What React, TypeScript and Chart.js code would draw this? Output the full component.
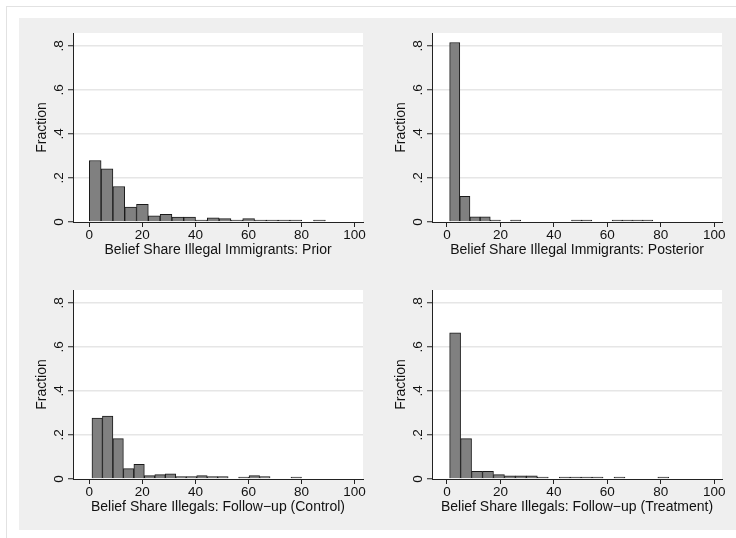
import React, { useEffect, useRef } from 'react';
import { Chart, registerables } from 'chart.js';

Chart.register(...registerables);

// Axis ticks
const xTicks = [0, 20, 40, 60, 80, 100];
const yTicks = [0, 0.2, 0.4, 0.6, 0.8];
const yTickLabels = ['0', '.2', '.4', '.6', '.8'];
const yLabel = 'Fraction';

// Panel 1: Prior (bins start 0, width 4.45)
const priorTitle = 'Belief Share Illegal Immigrants: Prior';
const priorStart = 0;
const priorWidth = 4.45;
const priorFractions = [0.279, 0.241, 0.161, 0.068, 0.080, 0.028, 0.035, 0.022, 0.022, 0.007, 0.019, 0.015, 0.004, 0.015, 0.005, 0.009, 0.004, 0.002, 0, 0.003];

// Panel 2: Posterior (bins start 1, width 3.8)
const posteriorTitle = 'Belief Share Illegal Immigrants: Posterior';
const posteriorStart = 1;
const posteriorWidth = 3.8;
const posteriorFractions = [0.815, 0.117, 0.024, 0.024, 0.006, 0, 0.003, 0, 0, 0, 0, 0, 0.003, 0.004, 0, 0, 0.003, 0.003, 0.003, 0.003];

// Panel 3: Follow-up (Control) (bins start 1, width 3.95)
const controlTitle = 'Belief Share Illegals: Follow\u2212up (Control)';
const controlStart = 1;
const controlWidth = 3.95;
const controlFractions = [0.277, 0.286, 0.183, 0.047, 0.067, 0.015, 0.020, 0.024, 0.011, 0.011, 0.015, 0.011, 0.011, 0, 0.006, 0.015, 0.011, 0, 0, 0.005];

// Panel 4: Follow-up (Treatment) (bins start 1, width 4.1)
const treatmentTitle = 'Belief Share Illegals: Follow\u2212up (Treatment)';
const treatmentStart = 1;
const treatmentWidth = 4.1;
const treatmentFractions = [0.664, 0.183, 0.035, 0.035, 0.020, 0.014, 0.014, 0.014, 0.006, 0, 0.004, 0.004, 0.004, 0.004, 0, 0.004, 0, 0, 0, 0.004];

const FONT = "'Liberation Sans', Arial, Helvetica, sans-serif";
const TEXT = '#111111';
const AXIS = '#222222';

type PanelProps = {
  left: number;
  top: number;
  xMin: number;
  xMax: number;
  start: number;
  width: number;
  values: number[];
  title: string;
};

const CW = 357;
const CH = 257;

function Panel({ left, top, xMin, xMax, start, width, values, title }: PanelProps) {
  const ref = useRef<HTMLCanvasElement>(null);
  useEffect(() => {
    const data = values.map((v, i) => ({ x: start + (i + 0.5) * width, y: v === 0 ? null : v }));
    const bg = {
      id: 'plotbg',
      beforeDraw(c: any) {
        const { ctx, chartArea: a } = c;
        ctx.save();
        ctx.fillStyle = '#ffffff';
        ctx.fillRect(a.left, a.top, a.right - a.left, a.bottom - a.top);
        ctx.restore();
      },
    };
    const chart = new Chart(ref.current as HTMLCanvasElement, {
      type: 'bar',
      data: {
        datasets: [
          {
            data: data as any,
            backgroundColor: '#808080',
            borderColor: '#1a1a1a',
            borderWidth: 1,
            barPercentage: 1,
            categoryPercentage: 1,
            minBarLength: 2,
          },
        ],
      },
      options: {
        animation: false,
        responsive: false,
        devicePixelRatio: 1,
        layout: { padding: { left: 0, top: 15, right: 13, bottom: 0 } },
        plugins: { legend: { display: false }, tooltip: { enabled: false } },
        scales: {
          x: {
            type: 'linear',
            min: xMin,
            max: xMax,
            offset: false,
            afterBuildTicks: (s: any) => {
              s.ticks = xTicks.map((v) => ({ value: v }));
            },
            afterFit: (s: any) => {
              s.height = 53;
            },
            grid: {
              offset: false,
              drawOnChartArea: false,
              drawTicks: true,
              tickLength: 5,
              tickColor: AXIS,
              tickWidth: 1,
            },
            border: { display: true, color: AXIS, width: 1 },
            ticks: {
              padding: 0,
              color: TEXT,
              font: { family: FONT, size: 13.5 },
              minRotation: 0,
              maxRotation: 0,
              autoSkip: false,
              callback: (v: any) => String(v),
            },
            title: {
              display: true,
              text: title,
              color: TEXT,
              font: { family: FONT, size: 14 },
              padding: { top: 0, bottom: 16.5 },
            },
          } as any,
          y: {
            type: 'linear',
            min: 0,
            max: 0.858,
            afterBuildTicks: (s: any) => {
              s.ticks = yTicks.map((v) => ({ value: v }));
            },
            afterFit: (s: any) => {
              s.width = 54;
            },
            grid: {
              color: (c: any) => (c.tick && c.tick.value === 0 ? 'rgba(0,0,0,0)' : '#e6e6e6'),
              lineWidth: 1.5,
              drawTicks: true,
              tickLength: 5,
              tickColor: AXIS,
              tickWidth: 1,
            },
            border: { display: true, color: AXIS, width: 1 },
            ticks: {
              padding: 3.5,
              minRotation: 90,
              maxRotation: 90,
              crossAlign: 'center',
              autoSkip: false,
              color: TEXT,
              font: { family: FONT, size: 13.5 },
              callback: (v: any, i: number) => yTickLabels[i],
            },
            title: {
              display: true,
              text: yLabel,
              color: TEXT,
              font: { family: FONT, size: 14 },
              padding: { top: 14.3, bottom: 0 },
            },
          } as any,
        },
      },
      plugins: [bg],
    });
    return () => chart.destroy();
  }, []);
  return (
    <canvas
      ref={ref}
      width={CW}
      height={CH}
      style={{ position: 'absolute', left, top, width: CW, height: CH }}
    />
  );
}

export default function App() {
  return (
    <div
      style={{
        position: 'absolute',
        left: 0,
        top: 0,
        width: 736,
        height: 538,
        background: '#ffffff',
        overflow: 'hidden',
      }}
    >
      <div
        style={{
          position: 'absolute',
          left: 6,
          top: 6,
          width: 730,
          height: 532,
          borderLeft: '1px solid #e2e2e2',
          borderTop: '1px solid #e2e2e2',
        }}
      />
      <div
        style={{
          position: 'absolute',
          left: 19,
          top: 18,
          width: 717,
          height: 512,
          background: '#efefef',
        }}
      />
      <Panel left={19} top={18} xMin={-6.15} xMax={103.2} start={priorStart} width={priorWidth} values={priorFractions} title={priorTitle} />
      <Panel left={378} top={18} xMin={-5.6} xMax={102.9} start={posteriorStart} width={posteriorWidth} values={posteriorFractions} title={posteriorTitle} />
      <Panel left={19} top={275} xMin={-6.15} xMax={103.2} start={controlStart} width={controlWidth} values={controlFractions} title={controlTitle} />
      <Panel left={378} top={275} xMin={-5.6} xMax={102.9} start={treatmentStart} width={treatmentWidth} values={treatmentFractions} title={treatmentTitle} />
    </div>
  );
}
